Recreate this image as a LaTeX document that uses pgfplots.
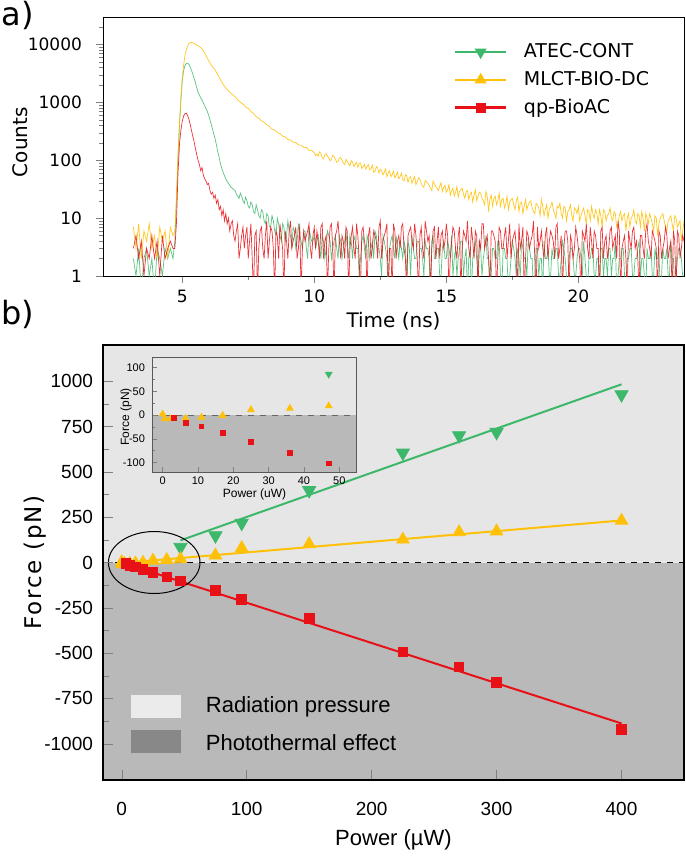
\documentclass[border=0pt]{standalone}
\usepackage{fontspec}
\setmainfont{DejaVu Sans}
\newfontfamily\arialfont{Liberation Sans}
\newfontfamily\forcefont[LetterSpace=8.0]{DejaVu Sans}
\usepackage{pgfplots}
\pgfplotsset{compat=1.18}
\usepackage{pgfplotstable}

\definecolor{cgreen}{HTML}{3DB86B}
\definecolor{cyellow}{HTML}{FFC107}
\definecolor{cred}{HTML}{E81117}
\definecolor{bglight}{HTML}{E6E6E6}
\definecolor{bgdark}{HTML}{B9B9B9}
\definecolor{patchlight}{HTML}{EBEBEB}
\definecolor{patchdark}{HTML}{888888}

% time-resolved counts: t (ns), ATEC-CONT, MLCT-BIO-DC, qp-BioAC  (0.5 = zero counts)
\pgfplotstableread{
t A M Q
3.15 2 7 3
3.25 1 3 5
3.35 3 8 2
3.45 0.5 2 4
3.55 2 6 1
3.65 3 4 3
3.75 1 8 2
3.85 2 3 5
3.95 0.5 5 2
4.05 3 2 4
4.15 2 7 1
4.25 1 4 5
4.35 3 6 2
4.45 2 2 3
4.55 3 7 4
4.65 2 5 3
4.72 4 6 3
4.78 20 22 8
4.84 110 120 60
4.90 450 480 200
4.95 1100 1200 330
5.00 2300 2600 470
5.05 3500 4300 580
5.10 4300 6300 640
5.15 4700 8000 650
5.20 4800 9400 600
5.25 4600 10300 520
5.30 4100 10800 420
5.35 3600 10900 330
5.40 3100 10800 260
5.45 2600 10500 210
5.50 2200 10200 160
5.55 1800 9800 125
5.60 1500 9500 100
5.65 1350 9200 85
5.70 1200 8900 66
5.75 1100 8400 75
5.80 980 7800 55
5.85 880 7100 48
5.90 780 6400 44
5.95 700 5800 38
6.00 600 5300 40
6.05 500 4800 30
6.10 420 4400 26
6.15 340 4100 28
6.20 280 3900 22
6.25 230 3600 25
6.30 180 3300 18
6.35 140 3000 21
6.40 110 2700 14
6.45 86 2450 16
6.50 72 2250 11
6.55 62 2050 14
6.60 54 1900 9
6.65 48 1780 12
6.70 43 1680 8
6.75 40 1580 10
6.80 37 1500 6
6.85 34 1440 8
6.90 33 1380 9
6.95 31 1310 5
7.00 30 1260 4
7.05 26 1180 6
7.10 24 1110 8
7.15 22 1060 2
7.20 27 1010 3
7.25 24 970 5
7.30 20 930 7
7.35 18 890 3
7.40 23 840 5
7.45 20 810 7
7.50 16 790 2
7.55 15 740 4
7.60 19 700 8
7.65 17 670 2
7.70 13 640 0.5
7.75 12 600 5
7.80 17 570 6
7.85 14 550 0.5
7.90 11 535 3
7.95 10 510 6
8.00 14 480 7
8.05 13 470 3
8.10 9 455 2
8.15 8 430 5
8.20 12 410 9
8.25 11 400 2
8.30 7 385 4
8.35 7 360 7
8.40 11 345 6
8.45 9 340 3
8.50 6 335 0.5
8.55 5 315 6
8.60 10 300 5
8.65 8 295 2
8.70 5 290 8
8.75 4 275 5
8.80 8 262 3
8.85 7 258 0.5
8.90 4 255 6
8.95 5 240 4
9.00 9 228 2
9.05 6 226 6
9.10 5 224 9
9.15 3 214 3
9.20 7 205 4
9.25 6 204 5
9.30 3 203 7
9.35 4 193 2
9.40 8 184 3
9.45 5 183 8
9.50 4 183 0.5
9.55 3 175 3
9.60 6 168 6
9.65 6 167 4
9.70 3 166 5
9.75 2 157 6
9.80 7 148 8
9.85 5 149 3
9.90 4 150 2
9.95 4 142 5
10.0 5 134 7
10.05 3 120 3
10.1 4 128 6
10.15 5 118 4
10.2 3 140 2
10.25 2 132 7
10.3 5 112 8
10.35 4 106 2
10.4 2 125 4
10.45 3 130 5
10.5 6 118 0.5
10.55 5 110 3
10.6 4 98 7
10.65 2 104 8
10.7 3 122 3
10.75 4 115 0.5
10.8 5 105 5
10.85 3 92 6
10.9 2 96 9
10.95 5 108 4
11.0 4 112 2
11.05 2 100 5
11.1 3 90 4
11.15 4 84 2
11.2 6 104 7
11.25 3 96 6
11.3 2 86 0.5
11.35 5 80 3
11.4 4 99 5
11.45 2 94 7
11.5 5 78 3
11.55 4 86 2
11.6 3 92 8
11.65 3 76 5
11.7 1 88 2
11.75 2 90 0.5
11.8 4 72 6
11.85 5 78 7
11.9 3 85 4
11.95 2 70 3
12.0 5 79 0.5
12.05 4 84 5
12.1 2 68 7
12.15 3 72 2
12.2 4 82 3
12.25 2 62 6
12.3 6 64 5
12.35 5 78 4
12.4 3 74 2
12.45 3 60 7
12.5 2 70 9
12.55 1 66 2
12.6 5 56 4
12.65 4 62 5
12.7 3 71 6
12.75 2 52 8
12.8 0.5 60 0.5
12.85 3 66 3
12.9 4 52 3
12.95 5 56 0.5
13.0 3 65 8
13.05 2 50 6
13.1 5 55 2
13.15 3 62 4
13.2 2 48 5
13.25 4 52 3
13.3 3 60 7
13.35 2 46 8
13.4 4 44 3
13.45 3 56 2
13.5 1 54 0.5
13.55 4 42 5
13.6 3 50 6
13.65 1 52 7
13.7 5 40 4
13.75 3 46 3
13.8 2 52 8
13.85 2 38 5
13.9 4 43 2
13.95 4 50 0.5
14.0 3 47 5
14.05 3 40 7
14.1 2 36 3
14.15 1 34 2
14.2 4 45 9
14.25 3 42 6
14.3 3 40 4
14.35 2 37 5
14.4 0.5 33 0.5
14.45 4 30 3
14.5 5 44 6
14.55 2 39 7
14.6 2 35 2
14.65 3 33 4
14.7 3 30 7
14.75 1 36 2
14.8 1 41 5
14.85 3 29 6
14.9 4 34 3
14.95 2 37 4
15.0 2 28 8
15.05 4 31 5
15.1 3 38 0.5
15.15 2 25 2
15.2 5 30 4
15.25 1 33 7
15.3 2 24 6
15.35 3 28 3
15.4 1 35 2
15.45 2 23 5
15.5 3 29 7
15.55 4 31 0.5
15.6 4 33 3
15.65 1 26 6
15.7 2 22 5
15.75 3 29 4
15.8 0.5 30 9
15.85 2 21 3
15.9 3 26 2
15.95 0.5 28 7
16.0 2 19 4
16.05 3 25 2
16.1 4 31 6
16.15 2 20 5
16.2 1 24 0.5
16.25 4 28 4
16.3 3 27 3
16.35 1 22 8
16.4 2 20 8
16.45 3 17 3
16.5 5 29 4
16.55 2 24 5
16.6 2 13 2
16.65 1 21 0.5
16.7 1 25 6
16.75 3 16 6
16.8 3 22 5
16.85 2 24 4
16.9 2 17 0.5
16.95 4 20 2
17.0 4 27 7
17.05 1 16 6
17.1 0.5 21 3
17.15 3 22 3
17.2 3 15 5
17.25 2 18 7
17.3 2 24 2
17.35 0.5 14 4
17.4 1 19 8
17.45 2 21 2
17.5 4 22 4
17.55 3 17 5
17.6 2 14 6
17.65 1 20 3
17.7 3 23 0.5
17.75 2 13 8
17.8 1 18 3
17.85 4 19 4
17.9 3 12 7
17.95 2 16 0.5
18.0 2 21 2
18.05 1 14 6
18.1 4 17 5
18.15 3 19 3
18.2 2 20 4
18.25 2 15 5
18.3 0.5 13 9
18.35 1 12 2
18.4 3 18 0.5
18.45 3 17 7
18.5 1 15 3
18.55 2 11 4
18.6 2 21 6
18.65 0.5 16 3
18.7 4 11 2
18.75 2 14 5
18.8 2 17 7
18.85 3 10 2
18.9 1 14 4
18.95 1 16 6
19.0 3 19 5
19.05 2 14 4
19.1 2 12 2
19.15 3 10 7
19.2 3 16 8
19.25 1 15 2
19.3 1 18 3
19.35 2 12 5
19.4 4 10 0.5
19.45 3 16 3
19.5 2 15 6
19.55 1 9 6
19.6 0.5 13 4
19.65 2 14 0.5
19.7 3 17 5
19.75 3 11 4
19.8 2 9 2
19.85 1 15 3
19.9 1 14 7
19.95 2 12 5
20.0 3 16 3
20.05 3 9 2
20.1 2 11 0.5
20.15 1 13 6
20.2 4 15 5
20.25 2 11 4
20.3 1 8 8
20.35 0.5 14 3
20.4 2 13 2
20.45 2 9 7
20.5 3 16 4
20.55 3 12 2
20.6 1 10 6
20.65 1 14 5
20.7 2 12 3
20.75 2 8 3
20.8 0.5 14 0.5
20.85 3 11 6
20.9 3 7 7
20.95 1 14 2
21.0 2 13 4
21.05 2 9 5
21.1 1 11 2
21.15 3 12 3
21.2 3 15 6
21.25 1 10 7
21.3 2 9 3
21.35 2 13 4
21.4 4 12 5
21.45 0.5 7 2
21.5 1 8 9
21.55 2 11 6
21.6 2 13 0.5
21.65 3 9 3
21.7 3 11 4
21.75 1 12 5
21.8 0.5 6 2
21.85 2 10 0.5
21.9 2 12 6
21.95 3 7 4
22.0 3 10 3
22.05 1 11 6
22.1 1 14 7
22.15 2 9 3
22.2 2 8 4
22.25 3 12 2
22.3 4 11 0.5
22.35 1 7 5
22.4 2 13 5
22.45 2 10 3
22.5 1 6 2
22.55 0.5 12 6
22.6 3 10 8
22.65 2 8 4
22.7 2 12 3
22.75 3 10 2
22.8 1 8 6
22.85 1 6 5
22.9 3 11 4
22.95 2 10 3
23.0 2 5 0.5
23.05 3 8 6
23.1 0.5 10 5
23.15 1 11 2
23.2 3 12 3
23.25 2 9 4
23.3 2 7 7
23.35 3 6 5
23.4 1 9 2
23.45 1 10 3
23.5 4 11 4
23.55 2 8 0.5
23.6 2 6 6
23.65 0.5 11 4
23.7 1 10 0.5
23.75 2 7 6
23.8 3 8 5
23.85 3 9 2
23.9 2 4 3
23.95 1 6 5
24.0 1 9 4
}\decay

\begin{document}
\begin{tikzpicture}
\useasboundingbox (0,0) rectangle (342.5pt,-428pt);
\node[font=\fontsize{16}{16}\selectfont] at (9pt,-7.5pt) {a)};
\node[font=\fontsize{16}{16}\selectfont] at (9pt,-157pt) {b)};

% ---------- a) decay curves ----------
\begin{axis}[
  at={(51.5pt,-138pt)}, anchor=south west,
  scale only axis, width=290.5pt, height=129.5pt,
  xmin=2, xmax=24, ymode=log, ymin=1, ymax=30000,
  xtick={5,10,15,20}, xticklabels={5,10,15,20}, minor x tick num=1,
  ytick={1,10,100,1000,10000}, yticklabels={1,10,100,1000,10000},
  minor ytick={2,3,4,5,6,7,8,9,20,30,40,50,60,70,80,90,200,300,400,500,600,700,800,900,2000,3000,4000,5000,6000,7000,8000,9000,20000},
  tick align=outside, xtick pos=bottom, ytick pos=left,
  major tick length=3.5pt, minor tick length=1.8pt,
  tick label style={font=\fontsize{8.5}{10}\selectfont},
  yticklabel style={xshift=-3.5pt},
  xlabel={Time (ns)}, ylabel={Counts},
  label style={font=\fontsize{10}{12}\selectfont},
  xlabel style={at={(axis description cs:0.5,-0.174)}, anchor=center},
  ylabel style={at={(axis description cs:-0.143,0.517)}, anchor=center},
  legend style={at={(0.592,0.93)}, anchor=north west, draw=none, fill=none,
    font=\fontsize{9.5}{11}\selectfont, row sep=1.3pt,
    /tikz/every odd column/.append style={column sep=6pt}},
  legend cell align=left,
  legend image code/.code={\draw[mark repeat=2,mark phase=2,#1] plot coordinates {(0pt,0pt) (12.75pt,0pt) (25.5pt,0pt)};},
]
\addlegendimage{cgreen, line width=1.2pt, mark=triangle*, mark size=2.3pt, mark options={rotate=180}}
\addlegendentry{ATEC-CONT}
\addlegendimage{cyellow, line width=1.2pt, mark=triangle*, mark size=2.3pt}
\addlegendentry{MLCT-BIO-DC}
\addlegendimage{cred, line width=1.8pt, mark=square*, mark size=1.6pt}
\addlegendentry{qp-BioAC}
\addplot[cgreen, line width=0.35pt, opacity=0.85, forget plot] table[x=t,y=A]{\decay};
\addplot[cyellow, line width=0.35pt, opacity=0.9, forget plot] table[x=t,y=M]{\decay};
\addplot[cred, line width=0.35pt, opacity=0.85, forget plot] table[x=t,y=Q]{\decay};
\end{axis}

% ---------- b) force vs power ----------
\begin{axis}[
  at={(51.5pt,-390pt)}, anchor=south west,
  scale only axis, width=290.5pt, height=217.5pt,
  xmin=-15, xmax=450, ymin=-1200, ymax=1200,
  xtick={0,100,200,300,400}, xticklabels={0,100,200,300,400},
  ytick={-1000,-750,-500,-250,0,250,500,750,1000},
  yticklabels={-1000,-750,-500,-250,0,250,500,750,1000},
  minor y tick num=1,
  tick align=inside, xtick pos=bottom, ytick pos=left,
  axis on top, axis line style={line width=0.8pt},
  major tick length=5pt, minor tick length=3pt,
  tick label style={font=\arialfont\fontsize{9.5}{11}\selectfont},
  xticklabel style={anchor=center, yshift=-14.5pt},
  yticklabel style={xshift=-1.5pt},
  xlabel={\arialfont Power (µW)}, ylabel={\forcefont Force (pN)},
  xlabel style={font=\fontsize{11}{13}\selectfont, at={(axis description cs:0.5,-0.138)}, anchor=center},
  ylabel style={font=\fontsize{11.5}{13}\selectfont, at={(axis description cs:-0.117,0.5)}, anchor=center},
  clip=true,
]
\fill[bglight] (axis cs:-15,0) rectangle (axis cs:450,1200);
\fill[bgdark] (axis cs:-15,-1200) rectangle (axis cs:450,0);
\draw[dashed, line width=0.5pt] (axis cs:-15,0) -- (axis cs:450,0);
\fill[patchlight] (axis description cs:0.048,0.1425) rectangle (axis description cs:0.134,0.195);
\fill[patchdark] (axis description cs:0.048,0.062) rectangle (axis description cs:0.134,0.115);
\node[anchor=west, font=\arialfont\fontsize{11}{13}\selectfont] at (axis description cs:0.165,0.168) {Radiation pressure};
\node[anchor=west, font=\arialfont\fontsize{11}{13}\selectfont] at (axis description cs:0.165,0.087) {Photothermal effect};

% linear fits
\addplot[cgreen, line width=1pt, no marks] coordinates {(47,122) (400,983)};
\addplot[cyellow, line width=1pt, no marks] coordinates {(0,-3) (400,232)};
\addplot[cred, line width=1pt, no marks] coordinates {(0,0) (400,-888)};

% measurements
\addplot[only marks, mark=triangle*, mark size=3.8pt, mark options={rotate=180, fill=cgreen, draw=cgreen}]
  coordinates {(47,85) (75,149) (96,218) (150,398) (225,605) (270,701) (300,719) (400,927)};
\addplot[only marks, mark=triangle*, mark size=3.6pt, mark options={fill=cyellow, draw=cyellow}]
  coordinates {(0,2) (0.6,-8) (2.3,-8) (6.5,-7) (11,-5) (17,-1) (25,11) (36,14) (47,19)
               (75,39) (96,80) (150,102) (225,127) (270,168) (300,172) (400,231)};
\addplot[only marks, mark=square*, mark size=2.4pt, mark options={fill=cred, draw=cred}]
  coordinates {(3.3,-6) (6.6,-16) (11,-24) (17,-37) (25,-56) (36,-79) (47,-102)
               (75,-155) (96,-202) (150,-310) (225,-494) (270,-575) (300,-660) (400,-920)};
\draw[line width=0.5pt] (axis cs:26,0) ellipse [x radius=22.9pt, y radius=15.5pt];
\end{axis}

% ---------- inset ----------
\begin{axis}[
  at={(76pt,-236pt)}, anchor=south west,
  scale only axis, width=102.5pt, height=57.5pt,
  xmin=-3, xmax=55, ymin=-120, ymax=122,
  xtick={0,10,20,30,40,50}, xticklabels={0,10,20,30,40,50},
  ytick={-100,-50,0,50,100}, yticklabels={-100,-50,0,50,100},
  minor y tick num=1,
  tick align=inside, xtick pos=bottom, ytick pos=left,
  axis on top, axis line style={draw=black!65, line width=0.5pt},
  major tick length=2.5pt, minor tick length=1.5pt,
  tick label style={font=\arialfont\fontsize{5.5}{6}\selectfont},
  xticklabel style={yshift=1pt},
  xlabel={\arialfont Power (uW)}, ylabel={\arialfont Force (pN)},
  label style={font=\fontsize{6}{7}\selectfont},
  xlabel style={at={(axis description cs:0.5,-0.191)}, anchor=center},
  ylabel style={at={(axis description cs:-0.127,0.48)}, anchor=center},
]
\fill[bglight] (axis cs:-3,0) rectangle (axis cs:55,122);
\fill[bgdark] (axis cs:-3,-120) rectangle (axis cs:55,0);
\draw[dashed, black!60, line width=0.4pt] (axis cs:-3,0) -- (axis cs:55,0);
\addplot[only marks, mark=triangle*, mark size=1.9pt, mark options={rotate=180, fill=cgreen, draw=cgreen}]
  coordinates {(47,86)};
\addplot[only marks, mark=triangle*, mark size=1.9pt, mark options={fill=cyellow, draw=cyellow}]
  coordinates {(0,2) (0.6,-8) (2.3,-8) (6.5,-7) (11,-5) (17,-1) (25,11) (36,14) (47,19)};
\addplot[only marks, mark=square*, mark size=1.2pt, mark options={fill=cred, draw=cred}]
  coordinates {(3.3,-6) (6.6,-16) (11,-24) (17,-37) (25,-56) (36,-79) (47,-102)};
\end{axis}
\end{tikzpicture}
\end{document}
